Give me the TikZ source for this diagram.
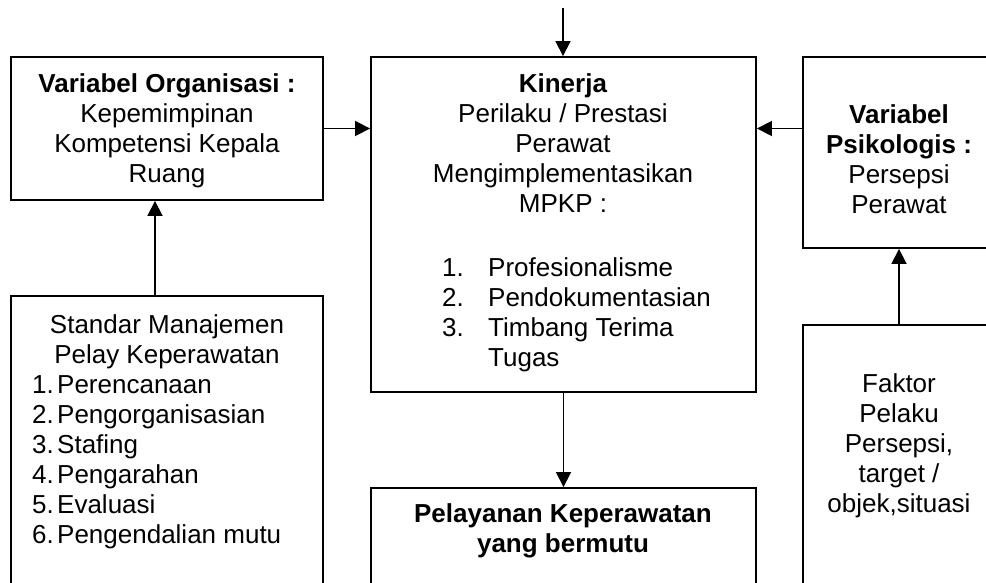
\documentclass[tikz,border=0pt]{standalone}
\usepackage{fontspec}
\setmainfont{Liberation Sans}
\usetikzlibrary{arrows.meta}
\begin{document}
\begin{tikzpicture}[x=1pt,y=-1pt,
  box/.style={draw,line width=1.9pt,rectangle,inner sep=0pt},
  txt/.style={inner sep=0pt,font=\fontsize{26}{30}\selectfont},
  arr/.style={line width=1.8pt,-{Triangle[length=15pt,width=15pt]}}]
\clip (0,0) rectangle (986,583);
\fill[white] (0,0) rectangle (986,583);

% boxes
\node[box,minimum width=312pt,minimum height=143pt] (org) at (167,128.5) {};
\node[box,minimum width=312pt,minimum height=324pt] (std) at (167,458) {};
\node[box,minimum width=385pt,minimum height=335pt] (kin) at (563.5,224.5) {};
\node[box,minimum width=385pt,minimum height=132pt] (pel) at (563.5,554) {};
\node[box,minimum width=192pt,minimum height=191pt] (psi) at (899,152.5) {};
\node[box,minimum width=192pt,minimum height=295pt] (fak) at (899,472.5) {};

% texts
\node[txt,align=center,anchor=north] (orgtxt) at (167,71)
  {\strut\textbf{Variabel Organisasi :}\\Kepemimpinan\\Kompetensi Kepala\\Ruang};
\node[txt,align=center,anchor=north] (stdtitle) at (167,312)
  {\strut Standar Manajemen\\Pelay Keperawatan};
\node[txt,align=left,anchor=north west] (stdlist) at (32,372)
  {\strut\makebox[25pt][l]{1.}Perencanaan\\
   \makebox[25pt][l]{2.}Pengorganisasian\\
   \makebox[25pt][l]{3.}Stafing\\
   \makebox[25pt][l]{4.}Pengarahan\\
   \makebox[25pt][l]{5.}Evaluasi\\
   \makebox[25pt][l]{6.}Pengendalian mutu};
\node[txt,align=center,anchor=north] (kintitle) at (563,71)
  {\strut\textbf{Kinerja}\\Perilaku / Prestasi\\Perawat\\Mengimplementasikan\\MPKP :};
\node[txt,align=left,anchor=north west] (kinlist) at (442,255)
  {\strut\makebox[46pt][l]{1.}Profesionalisme\\
   \makebox[46pt][l]{2.}Pendokumentasian\\
   \makebox[46pt][l]{3.}Timbang Terima\\
   \hspace*{46pt}Tugas};
\node[txt,align=center,anchor=north,font=\fontsize{26}{30}\selectfont\bfseries] (peltxt) at (563,501)
  {\strut Pelayanan Keperawatan\\yang bermutu};
\node[txt,align=center,anchor=north] (psitxt) at (899,102)
  {\strut\textbf{Variabel}\\\textbf{Psikologis :}\\Persepsi\\Perawat};
\node[txt,align=center,anchor=north] (faktxt) at (899,371)
  {\strut Faktor\\Pelaku\\Persepsi,\\target /\\objek,situasi};

% connectors
\coordinate (topin) at (563,8);
\draw[arr] (topin) -- (topin |- kin.north);
\draw[arr] (org.east) -- (org.east -| kin.west);
\draw[arr] (psi.west |- org.east) -- (kin.east |- org.east);
\draw[arr] ([xshift=-12pt]std.north) -- ([xshift=-12pt]org.south);
\draw[arr] (fak.north) -- (psi.south);
\draw[arr] (kin.south) -- (pel.north);
\end{tikzpicture}
\end{document}
